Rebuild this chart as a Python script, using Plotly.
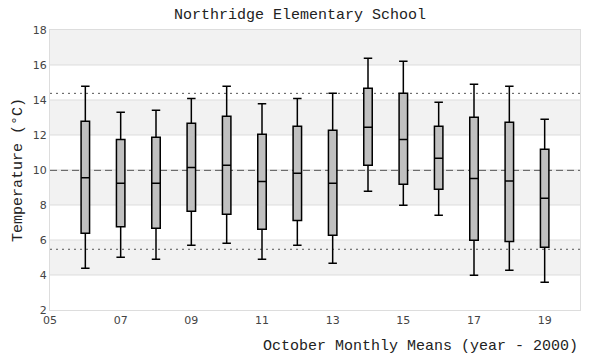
import plotly.graph_objects as go

years = [6, 7, 8, 9, 10, 11, 12, 13, 14, 15, 16, 17, 18, 19]
whisker_high = [14.78, 13.30, 13.41, 14.08, 14.78, 13.79, 14.08, 14.38, 16.38, 16.21, 13.87, 14.90, 14.78, 12.90]
q3 = [12.78, 11.75, 11.87, 12.67, 13.07, 12.04, 12.50, 12.27, 14.67, 14.38, 12.50, 13.01, 12.73, 11.18]
median = [9.56, 9.24, 9.24, 10.15, 10.27, 9.35, 9.81, 9.24, 12.44, 11.75, 10.67, 9.52, 9.37, 8.38]
q1 = [6.38, 6.76, 6.67, 7.64, 7.47, 6.61, 7.12, 6.27, 10.27, 9.18, 8.90, 5.98, 5.92, 5.58]
whisker_low = [4.38, 5.01, 4.90, 5.70, 5.81, 4.90, 5.70, 4.67, 8.78, 7.98, 7.41, 3.98, 4.27, 3.58]

tick_vals = [5, 7, 9, 11, 13, 15, 17, 19]
tick_text = ["05", "07", "09", "11", "13", "15", "17", "19"]
y_grid = [4, 6, 8, 10, 12, 14, 16]

overall_mean = 9.98
upper_limit = 14.38
lower_limit = 5.47

band_ranges = [(16, 18), (12, 14), (8, 10), (4, 6)]

fig = go.Figure()
fig.add_trace(go.Box(
    x=years, q1=q1, median=median, q3=q3,
    lowerfence=whisker_low, upperfence=whisker_high,
    fillcolor="#c0c0c0", line=dict(color="black", width=1.5),
    width=0.24, whiskerwidth=1, showlegend=False, hoverinfo="skip",
))

shapes = []
for lo, hi in band_ranges:
    shapes.append(dict(type="rect", xref="paper", yref="y", x0=0, x1=1, y0=lo, y1=hi,
                       fillcolor="#f2f2f2", line=dict(width=0), layer="below"))
for g in y_grid:
    shapes.append(dict(type="line", xref="paper", yref="y", x0=0, x1=1, y0=g, y1=g,
                       line=dict(color="#dddddd", width=1), layer="below"))
shapes.append(dict(type="line", xref="paper", yref="y", x0=0, x1=1, y0=overall_mean, y1=overall_mean,
                   line=dict(color="#555", width=1, dash="7px,4px"), layer="below"))
for v in (upper_limit, lower_limit):
    shapes.append(dict(type="line", xref="paper", yref="y", x0=0, x1=1, y0=v, y1=v,
                       line=dict(color="#555", width=1, dash="2px,4px"), layer="below"))

mono = "Liberation Mono, Courier New, monospace"
fig.update_layout(
    width=600, height=360,
    margin=dict(l=50, r=20, t=30, b=50),
    paper_bgcolor="white", plot_bgcolor="white",
    shapes=shapes,
    title=dict(text="Northridge Elementary School", x=0.5, xanchor="center", y=0.962, yanchor="middle",
               font=dict(family=mono, size=15, color="#222")),
    xaxis=dict(range=[5, 20], tickvals=tick_vals, ticktext=tick_text, showgrid=False, zeroline=False,
               showline=True, mirror=True, linecolor="#ddd", linewidth=1,
               tickfont=dict(family="DejaVu Sans, sans-serif", size=11, color="#444"), ticks=""),
    yaxis=dict(range=[2, 18], dtick=2, showgrid=False, zeroline=False,
               showline=True, mirror=True, linecolor="#ddd", linewidth=1,
               tickfont=dict(family="DejaVu Sans, sans-serif", size=11, color="#444"), ticks="",
               title=dict(text="Temperature (°C)", font=dict(family=mono, size=15, color="#222"), standoff=6)),
    annotations=[dict(text="October Monthly Means (year - 2000)", xref="paper", yref="paper",
                      x=1, y=-0.132, xanchor="right", yanchor="middle", showarrow=False,
                      font=dict(family=mono, size=15, color="#222"))],
)

fig.write_html("out.html", config={"displayModeBar": False},
               post_script="document.body.style.margin='0';document.body.style.overflow='hidden';")
